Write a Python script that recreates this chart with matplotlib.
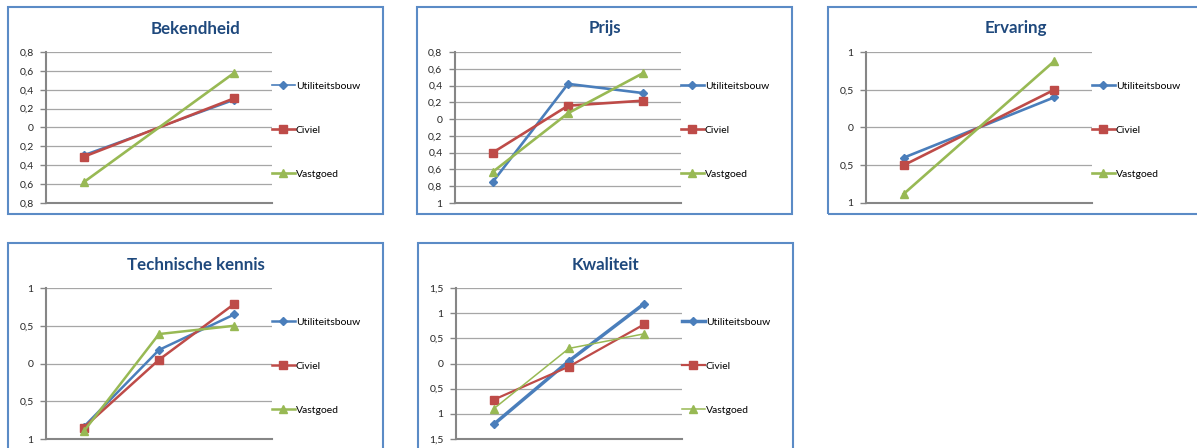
import numpy as np
import matplotlib
matplotlib.use("Agg")
import matplotlib.pyplot as plt
from matplotlib.patches import Rectangle
from matplotlib.ticker import FuncFormatter, MultipleLocator

plt.rcParams["font.family"] = ["Lato", "DejaVu Sans"]

nan = np.nan

# Series names (legend) and the three category slots on the x axis
series = ["Utiliteitsbouw", "Civiel", "Vastgoed"]
categories = ["1", "2", "3"]

# Values per chart, one row per series (Utiliteitsbouw, Civiel, Vastgoed)
bekendheid = [[-0.29, nan, 0.29],
              [-0.31, nan, 0.31],
              [-0.58, nan, 0.58]]
prijs = [[-0.75, 0.42, 0.31],
         [-0.40, 0.16, 0.22],
         [-0.63, 0.07, 0.55]]
ervaring = [[-0.40, nan, 0.40],
            [-0.50, nan, 0.50],
            [-0.88, nan, 0.88]]
technische_kennis = [[-0.84, 0.18, 0.65],
                     [-0.85, 0.05, 0.79],
                     [-0.90, 0.39, 0.50]]
kwaliteit = [[-1.21, 0.05, 1.19],
             [-0.72, -0.06, 0.78],
             [-0.90, 0.30, 0.59]]

titles = ["Bekendheid", "Prijs", "Ervaring", "Technische kennis", "Kwaliteit"]
y_ranges = [(-0.8, 0.8, 0.2), (-1.0, 0.8, 0.2), (-1.0, 1.0, 0.5),
            (-1.0, 1.0, 0.5), (-1.5, 1.5, 0.5)]

# Styling
colors = ["#4A7EBB", "#BE4B48", "#98B954"]
markers = ["D", "s", "^"]
marker_sizes = [4.0, 6.0, 6.0]
line_widths = {
    "Bekendheid": [1.2, 1.9, 1.9],
    "Prijs": [1.9, 1.9, 1.9],
    "Ervaring": [1.9, 1.9, 1.9],
    "Technische kennis": [1.8, 1.8, 1.8],
    "Kwaliteit": [2.5, 1.6, 1.1],
}
title_color = "#1F497D"
frame_color = "#5B8BC6"
grid_color = "#A6A6A6"
axis_color = "#868686"

W, H = 1197, 448
fig = plt.figure(figsize=(W / 100, H / 100), dpi=100)
fig.patch.set_facecolor("white")


def rect(x0, y0, x1, y1):
    """Pixel box (top-left origin) -> figure fraction [l, b, w, h]."""
    return [x0 / W, 1 - y1 / H, (x1 - x0) / W, (y1 - y0) / H]


# Panel placement: frame left/top, in pixels
frames = [(8, 7), (417, 7), (828, 7), (8, 243), (418, 243)]
frame_w, frame_h = 375, 207
plot_dx0, plot_dx1 = 38, 264
plot_dy0, plot_dy1 = 45, 196

tick_fmt = FuncFormatter(lambda v, pos: ("%g" % round(abs(v), 2)).replace(".", ","))

datasets = [bekendheid, prijs, ervaring, technische_kennis, kwaliteit]

for title, data, (ymin, ymax, step), (fx, fy) in zip(titles, datasets, y_ranges, frames):
    # chart frame
    fig.patches.append(Rectangle((fx / W, 1 - (fy + frame_h) / H), frame_w / W, frame_h / H,
                                 transform=fig.transFigure, fill=False,
                                 edgecolor=frame_color, linewidth=1.5, zorder=0))
    fig.text((fx + frame_w / 2) / W, 1 - (fy + 21.5) / H, title, ha="center", va="center",
             fontsize=12.2, fontweight="bold", color=title_color)

    ax = fig.add_axes(rect(fx + plot_dx0, fy + plot_dy0, fx + plot_dx1, fy + plot_dy1))
    x = np.arange(len(categories))
    for i, name in enumerate(series):
        vals = np.array(data[i], dtype=float)
        ok = ~np.isnan(vals)
        ax.plot(x[ok], vals[ok], color=colors[i], marker=markers[i],
                markersize=marker_sizes[i], linewidth=line_widths[title][i],
                label=name, clip_on=False, zorder=3 + i)

    ax.set_xlim(-0.5, len(categories) - 0.5)
    ax.set_ylim(ymin, ymax)
    ax.yaxis.set_major_locator(MultipleLocator(step))
    ax.yaxis.set_major_formatter(tick_fmt)
    ax.set_xticks([])
    ax.grid(axis="y", color=grid_color, linewidth=0.9)
    ax.set_axisbelow(True)
    for side in ("top", "right"):
        ax.spines[side].set_visible(False)
    for side in ("left", "bottom"):
        ax.spines[side].set_color(axis_color)
        ax.spines[side].set_linewidth(1.5)
    ax.tick_params(axis="y", direction="out", length=4, width=1, color=axis_color,
                   labelsize=7.5, labelcolor="#262626", pad=5)

    ax.legend(loc="center left", bbox_to_anchor=(1.0, 0.483), frameon=False,
              fontsize=7.5, handlelength=2.2, handletextpad=0.1,
              labelspacing=3.35, borderaxespad=0, borderpad=0)

fig.savefig("out.png", dpi=100, facecolor="white")
